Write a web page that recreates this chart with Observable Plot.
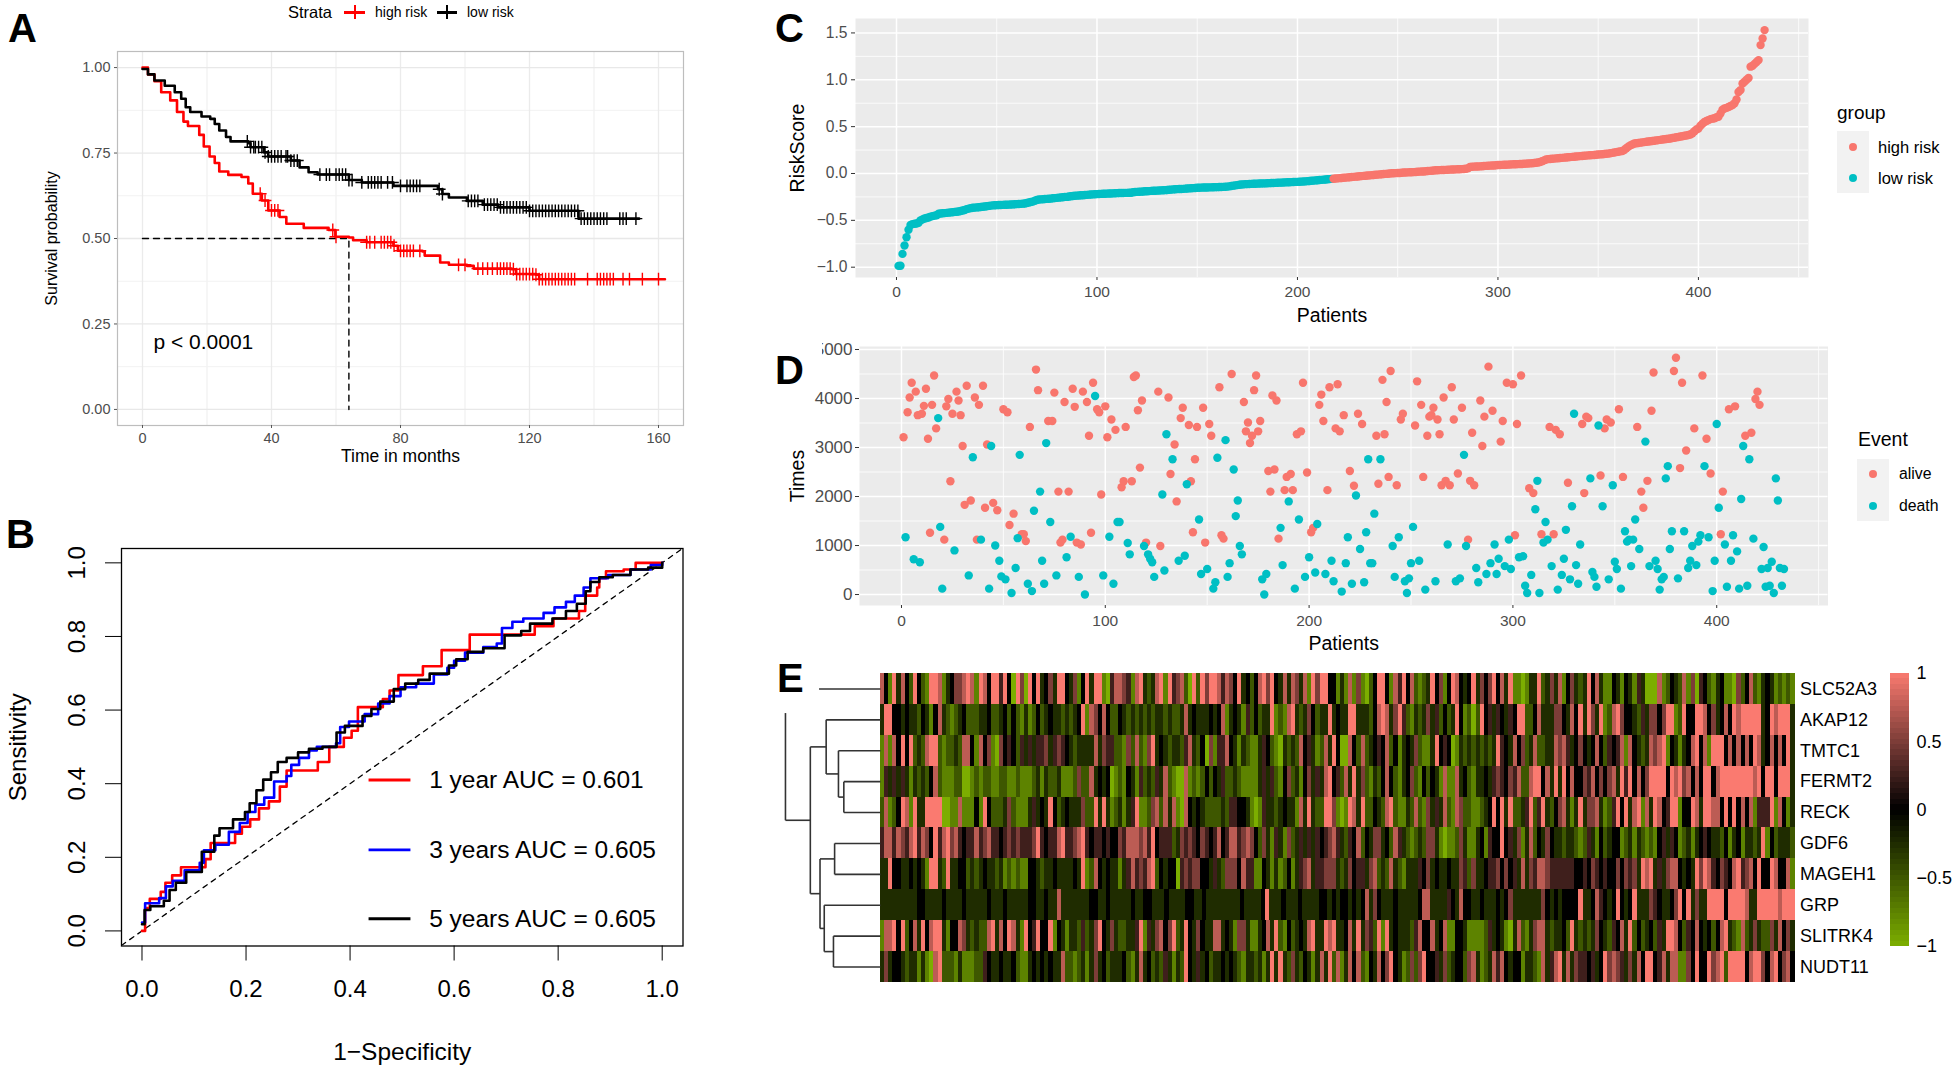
<!DOCTYPE html>
<html><head><meta charset="utf-8">
<script src="https://cdn.jsdelivr.net/npm/d3@7"></script>
<script src="https://cdn.jsdelivr.net/npm/@observablehq/plot@0.6"></script>
<style>
html,body{margin:0;padding:0;background:#fff}
#page{position:relative;width:1954px;height:1068px;overflow:hidden;background:#fff;font-family:'Liberation Sans',Arial,sans-serif}
#page svg{position:absolute;max-width:none;overflow:visible;background:transparent}
.t{position:absolute;white-space:nowrap;transform:translateY(-50%);line-height:1}
.letter{position:absolute;font-weight:700;font-size:40px;line-height:40px;background:#fff}
</style></head><body><div id="page"></div>
<script>
const FONT = "'Liberation Sans',Arial,sans-serif";
const SALMON = "#F8766D", TEAL = "#00BFC4";

// --- A: Kaplan-Meier
const kmHigh = [[0,1],[1.7,.98],[3.7,.96],[5.8,.928],[8.6,.904],[10.7,.87],[12.7,.842],[14.1,.829],[17.6,.803],[19,.769],[20.8,.74],[22.4,.721],[23.8,.696],[26.6,.686],[30.7,.68],[32.8,.661],[34.2,.631],[37,.611],[39,.582],[42.5,.563],[44.6,.543],[50,.531],[57.7,.525],[59.8,.505],[64,.503],[65.3,.495],[69.5,.489],[77.8,.479],[79.2,.464],[86.8,.462],[87.5,.45],[92.3,.43],[95,.423],[100.6,.42],[102.7,.412],[114.5,.41],[115.8,.396],[122,.394],[123,.381],[162,.381]];
const kmLow = [[0,.996],[1.7,.98],[3.7,.962],[6.9,.947],[10,.928],[12,.909],[13.4,.884],[14.8,.87],[18.3,.857],[21,.85],[22.4,.835],[23.8,.816],[25.9,.797],[27.3,.784],[32.8,.779],[33.5,.767],[37.6,.752],[39,.74],[46,.728],[48.7,.708],[51.5,.694],[54.3,.687],[64,.671],[68,.664],[77.8,.654],[91.6,.644],[93,.63],[95,.62],[100.6,.61],[105.5,.599],[110.3,.591],[120,.581],[135.2,.558],[154,.558]];
const censorHigh = [36.5,38,40,41,42,59,60,69.5,70.5,72,74,75,76,77,78,80,81,82,83,84,86,98,100,104,105.5,107,108.5,110,111,112,113,114,115,116,117,118,119,120,121,122,123,124,125,126,127,128,129,130,131,132,133,134,138,141,142,143,144,145,146,149,151,155,160];
const censorLow = [32.5,33.5,34.5,35,36,37,38,39,40,41,42,43,44.5,45,46,47,48,55,57,58,60,61,62,63,64,65,68,70,71,72,73,74,76,77.5,80,82,83,84,85,86,92,93,101,102,103,104,106,107,108,109,110,111,112,113,114,115,116,117,118,119,120,121,122,123,124,125,126,127,128,129,130,131,132,133,134,135,136,137,138,139,140,141,142,143,144,148,149,150,153];
const medianPath = [[0,.5],[64,.5],[64,0]];

// --- B: ROC
const roc1 = [[0,0],[.006,.062],[.015,.087],[.036,.106],[.045,.131],[.058,.151],[.075,.173],[.122,.195],[.132,.239],[.179,.264],[.192,.283],[.208,.303],[.225,.333],[.244,.352],[.265,.392],[.278,.436],[.338,.459],[.36,.5],[.388,.525],[.403,.544],[.415,.608],[.463,.63],[.476,.653],[.493,.695],[.54,.719],[.576,.763],[.63,.805],[.755,.828],[.791,.849],[.84,.869],[.852,.911],[.875,.933],[.879,.958],[.892,.977],[.926,.982],[.949,1],[1,1]];
const roc3 = [[0,.023],[.006,.075],[.033,.089],[.046,.121],[.059,.136],[.082,.165],[.111,.185],[.119,.219],[.141,.234],[.167,.269],[.188,.293],[.203,.323],[.218,.343],[.235,.362],[.254,.406],[.278,.421],[.287,.451],[.302,.47],[.321,.49],[.336,.5],[.373,.51],[.381,.554],[.398,.569],[.428,.589],[.454,.618],[.476,.638],[.497,.662],[.527,.672],[.561,.697],[.587,.715],[.6,.734],[.621,.756],[.656,.771],[.682,.781],[.692,.823],[.712,.84],[.733,.849],[.772,.864],[.793,.879],[.815,.894],[.832,.911],[.849,.933],[.862,.958],[.896,.967],[.939,.982],[.978,.994],[1,1]];
const roc5 = [[0,.018],[.005,.057],[.016,.067],[.042,.082],[.053,.111],[.065,.131],[.085,.16],[.115,.215],[.139,.259],[.149,.279],[.175,.303],[.198,.323],[.207,.347],[.22,.382],[.233,.411],[.248,.431],[.261,.459],[.278,.47],[.3,.485],[.321,.495],[.347,.5],[.374,.539],[.39,.557],[.424,.584],[.441,.603],[.458,.623],[.484,.657],[.506,.672],[.531,.682],[.553,.699],[.59,.721],[.604,.738],[.626,.758],[.656,.768],[.697,.803],[.729,.815],[.746,.835],[.789,.849],[.815,.869],[.836,.889],[.853,.923],[.862,.948],[.879,.961],[.905,.967],[.939,.982],[.973,.987],[1,1]];
const rocLegend = [{label:"1 year AUC = 0.601",color:"#ff0000",y:.41},{label:"3 years AUC = 0.605",color:"#0000ff",y:.22},{label:"5 years AUC = 0.605",color:"#000000",y:.033}];

// --- C: risk score per patient, in rank order
const riskScore = [-.986,-.984,-.858,-.769,-.68,-.6,-.55,-.54,-.537,-.534,-.525,-.5,-.49,-.48,-.475,-.47,-.46,-.455,-.45,-.445,-.43,-.427,-.425,-.423,-.42,-.418,-.415,-.413,-.41,-.408,-.405,-.4,-.395,-.39,-.38,-.375,-.37,-.366,-.364,-.362,-.36,-.358,-.355,-.352,-.35,-.346,-.343,-.34,-.339,-.338,-.337,-.336,-.335,-.334,-.333,-.332,-.331,-.33,-.328,-.327,-.326,-.324,-.322,-.32,-.315,-.31,-.305,-.3,-.29,-.283,-.278,-.276,-.275,-.273,-.271,-.27,-.268,-.265,-.263,-.26,-.258,-.255,-.253,-.25,-.25,-.245,-.243,-.24,-.238,-.236,-.235,-.233,-.232,-.23,-.228,-.226,-.225,-.223,-.222,-.22,
-.219,-.218,-.217,-.216,-.215,-.214,-.213,-.212,-.211,-.21,-.209,-.208,-.208,-.207,-.207,-.206,-.206,-.2,-.198,-.196,-.195,-.194,-.192,-.19,-.189,-.188,-.186,-.185,-.184,-.183,-.182,-.18,-.179,-.178,-.176,-.174,-.172,-.17,-.168,-.167,-.166,-.165,-.164,-.162,-.16,-.159,-.158,-.156,-.155,-.153,-.152,-.151,-.15,-.15,-.149,-.148,-.148,-.147,-.146,-.146,-.145,-.144,-.143,-.142,-.14,-.137,-.134,-.13,-.127,-.124,-.12,-.118,-.116,-.114,
-.113,-.112,-.111,-.11,-.109,-.108,-.107,-.106,-.106,-.105,-.104,-.103,-.102,-.101,-.1,-.099,-.098,-.097,-.096,-.095,-.094,-.093,-.092,-.091,-.09,-.089,-.088,-.087,-.085,-.084,-.082,-.08,-.078,-.076,-.074,-.072,-.07,-.068,-.066,-.064,-.062,-.06,-.058,
-.056,-.054,-.052,-.05,-.048,-.046,-.044,-.042,-.04,-.038,-.036,-.034,-.032,-.03,-.028,-.026,-.024,-.022,-.02,-.018,-.016,-.014,-.012,-.01,-.008,-.006,-.004,-.002,0,.002,.003,.004,.005,.006,.008,.01,.011,.012,.013,.014,.015,.016,.018,.02,.021,.022,.024,.026,.028,.03,.032,.034,.035,.036,.037,.038,.039,.04,.041,.042,.043,.044,.045,.046,.047,.048,.05,.055,.07,
.072,.073,.074,.075,.076,.078,.08,.081,.082,.084,.085,.086,.088,.09,.091,.092,.093,.094,.095,.096,.097,.098,.099,.1,.101,.102,.104,.105,.106,.108,.11,.112,.114,.117,.122,.13,.14,.15,.153,.155,.157,.159,.161,.163,.165,.167,.169,.171,.173,.175,.177,.179,.181,.183,.185,.187,.189,.191,.193,.195,.196,.198,.2,.202,.204,.206,.208,.21,.212,.216,.22,.224,.228,.232,.236,.24,.25,.27,.285,.3,.31,.32,
.323,.326,.329,.332,.335,.338,.341,.344,.347,.35,.353,.356,.359,.362,.365,.368,.371,.374,.378,.382,.386,.39,.394,.398,.402,.406,.41,.416,.43,.45,.47,.48,.51,.53,.55,.56,.57,.58,.585,.59,.6,.605,.64,.68,.694,.7,.71,.72,.73,.75,.79,.87,.89,.96,.98,1,1.02,1.14,1.15,1.17,1.19,1.21,1.37,1.44,1.53];
const highRiskFrom = 218;

// --- D: [patient, time] pairs
const aliveTimes = [[1,3210],[3,3720],[4,4020],[5,4320],[7,4140],[8,3660],[10,3690],[11,3850],[12,4200],[13,3180],[14,1260],[15,3870],[16,4470],[17,3390],[21,1120],[22,3840],[23,3990],[24,2310],[25,3690],[27,4140],[28,3960],[29,3660],[30,3030],[31,1830],[32,4260],[34,1920],[36,4020],[37,1120],[38,3870],[40,4260],[41,1770],[42,3060],[45,1870],[47,1720],[50,3780],[52,3720],[53,1420],[55,1650],[59,1230],[60,1230],[61,1090],[63,3420],[66,4590],[67,4170],[72,3540],[74,3540],[75,4120],[77,2100],[78,1060],[79,1120],[80,3930],[82,2100],[84,4200],[85,3830],[86,1060],[88,1020],[89,4140],[91,3930],[92,3240],[93,1260],[94,4320],[96,3780],[97,3720],[98,2040],[100,3840],[101,3210],[103,3570],[105,3360],[108,2190],[109,2310],[110,3420],[113,2310],[114,4440],[115,4470],[116,3760],[117,2590],[118,3960],[120,1060],[126,4140],[127,990],[131,4020],[132,2460],[134,3060],[135,1900],[137,3600],[138,3810],[141,3460],[142,2310],[143,1270],[144,2760],[145,3420],[148,3810],[149,1060],[151,3480],[152,3240],[156,4230],[157,1210],[158,1140],[162,4500],[168,3930],[169,3330],[170,3510],[171,3090],[172,3240],[173,4170],[174,4470],[175,3330],[176,3540],[180,2520],[181,2100],[182,4060],[183,2550],[184,3960],[185,1140],[188,2130],[189,2400],[191,2460],[192,2130],[194,3270],[196,3330],[197,4320],[199,2490],[201,1270],[202,1360],[205,3870],[206,4080],[207,3540],[209,2130],[210,4230],[213,3390],[214,4290],[215,3330],[217,3660],[220,2520],[222,2220],[224,3690],[226,3480],[233,3240],[234,2260],[236,4380],[237,3270],[238,3930],[239,2400],[240,4560],
[243,2230],[245,3570],[246,3690],[252,3450],[253,4350],[255,3870],[256,2400],[258,3240],[259,3630],[260,3660],[261,3810],[263,3570],[264,3270],[265,2230],[266,4020],[267,2320],[269,2230],[270,4230],[271,3570],[273,2470],[275,3810],[278,1120],[279,2320],[280,3300],[281,2230],[284,3960],[285,3030],[286,3630],[288,4650],[290,3750],[294,3120],[295,3540],[297,4320],[300,4290],[301,1210],[302,3480],[304,4470],[308,2170],[310,2070],[314,1230],[318,3420],[320,1230],[321,3360],[323,3270],[327,2280],[334,3480],[335,2070],[336,3630],[337,3600],[343,2430],[345,3390],[346,3570],[348,3510],[352,3780],[354,2400],[361,3420],[363,2100],[364,1770],[366,2320],[368,3750],[369,4530],[379,4560],[380,4830],[382,2580],[383,4320],[385,2940],[389,3390],[393,4470],[395,3180],[397,2470],[402,1230],[403,2100],[406,3780],[409,3840],[414,3240],[417,3300],[419,3990],[420,4140],[421,3870]];
const deathTimes = [[2,1170],[6,720],[9,660],[18,3600],[19,1380],[20,120],[26,900],[33,390],[35,2800],[39,1120],[43,120],[44,3030],[46,1000],[48,690],[49,370],[51,310],[54,30],[56,540],[57,1150],[58,2850],[62,220],[64,70],[65,1710],[68,2100],[69,690],[70,220],[71,3090],[73,1480],[76,390],[81,760],[83,1180],[87,360],[90,0],[95,4050],[99,390],[102,1180],[104,220],[106,1480],[107,1480],[111,1050],[112,820],[119,990],[121,820],[122,730],[123,660],[124,360],[128,2040],[129,490],[130,3270],[133,2760],[136,690],[139,790],[140,2250],[146,1530],[147,420],[150,520],[153,120],[154,250],[155,2790],[159,3150],[160,360],[161,640],[163,2550],[164,1600],[165,1920],[166,990],[167,820],[177,310],[178,0],[179,420],[186,1360],[187,600],[190,1900],[193,120],[195,1530],[198,360],[200,760],[203,450],[204,1440],[208,420],[211,690],[212,270],[216,60],[218,640],[219,1170],[221,220],[223,2020],[225,930],[227,250],[228,1270],[229,2760],[230,640],[231,640],[232,1650],[235,2760],
[241,990],[242,360],[244,1170],[247,270],[248,30],[249,330],[250,640],[251,1380],[254,690],[257,100],[262,270],[268,1020],[272,270],[274,330],[276,2850],[277,990],[282,540],[283,250],[287,420],[289,640],[291,1020],[292,420],[293,730],[296,580],[298,1120],[299,520],[303,760],[305,780],[306,180],[307,30],[309,400],[311,1740],[312,2320],[313,30],[315,1060],[316,1480],[317,1120],[319,580],[322,100],[324,400],[325,730],[326,1320],[328,310],[329,1800],[330,3690],[331,600],[332,220],[333,1020],[338,2370],[339,460],[340,360],[341,160],[342,3450],[344,1800],[347,310],[349,2230],[350,670],[351,520],[353,120],[355,1290],[356,1080],[357,1120],[358,580],[359,1120],[360,1530],[362,930],[365,3120],[367,580],[370,690],[371,520],[372,100],[373,310],[374,360],[375,2370],[376,2620],[377,930],[378,1290],[381,330],[384,1290],[386,540],[387,690],[388,990],[390,600],[391,1080],[392,1210],[394,2620],[396,1170],[398,70],[399,690],[400,3480],[401,1770],[404,1020],[405,160],[407,690],[408,1210],[410,880],[411,120],[412,1950],[413,3030],[415,180],[416,2760],[418,1140],[422,520],[423,970],[424,160],[425,540],[426,180],[427,670],[428,30],[429,2370],[430,1920],[431,540],[432,180],[433,520]];

// --- E: expression levels, one digit per stripe (0 = -1, 4 = 0, 8 = +1), four stretches of patients per gene
const genes = ["SLC52A3","AKAP12","TMTC1","FERMT2","RECK","GDF6","MAGEH1","GRP","SLITRK4","NUDT11"];
const stretchEnds = [0,108.9,217.8,326.7,433];
const exprSLC52A3 = ["74183742842188713466787187488584086084834638843614838810","57765178323781856720828688757648342478684373763718688441","31716102488417584721238461487434836468473811013382363714","632384731143143153000712432716054213411062472134312121"];
const exprAKAP12 = ["38844343324314732123422233422342421312423433232348176474","22432323232332322373433343471343152423381217832364233834","33883332478736852132363524238412028453543548822473336643","748386381278644325366468812844887463474878888834878883"];
const exprTMTC1 = ["17174848232788212232774174610645425353556356543233337365","52216272168343233257324061557431321135421032327453127384","00742723454724134362113845401323232323854374623722337675","346434742545717432376781431347847188847474748734747483"];
const exprFERMT2 = ["15353531323247211122001212211221121112313223111262273434","01214315232537210071212424352232111135352146231463537845","27383621324742134621424317117342133435654657227884738384","744657464673858474688884878674748847888888887848848883"];
const exprRECK = ["27124871833888800117111418422236211135343842343336228383","12313581126727371074343222232554431015332343317383228861","01873822432782113272163537217622112348483822358258324673","138366731258483781738745881448738877484847471555817413"];
const exprGDF6 = ["57757657857648578675455756755456565556854557855678545545","44657776758455523656546545745775676426315316235353545675","32547243663427532123266310112631134154484536137243643323","321253142344123132121453541231345433241341332381423332"];
const exprMAGEH1 = ["33844334343188328334423234332312121144323343333438127434","33135756578243440565664435326664755114313124135673556663","23645536723273213335463433433652633455646453736577655555","544546545446465638783536774343868754654785674844874471"];
const exprGRP = ["33333333344333343333433333433343333344334337333333344334","3333343344333433334433433333333433334833343334333344343","44343473643334333334773333543744334333434633333336434344","448334754348434833365433468483633888848888733888887888"];
const exprSLITRK4 = ["17784824738478831447632322783748731845844814313325236843","63223358153674682384364337734316631134738214234378338783","34738365281834333257447347114431111253431037213677323342","832323643254738242342538874254743424783217236322637463"];
const exprNUDT11 = ["36344323313107822213111225433433421134343433722123136342","33342137342325313284353423343432133231383832632431373827","13747214374684312626844536234426731237574344133217357837","365545348676536374884573771164844867828888478864784674"];
const exprRows = [exprSLC52A3,exprAKAP12,exprTMTC1,exprFERMT2,exprRECK,exprGDF6,exprMAGEH1,exprGRP,exprSLITRK4,exprNUDT11];
// dendrogram: [merge height, child, child]; plain numbers are row indexes
const dendroTree = [.731,[.566,1,[.438,2,[.382,3,4]]],[.63,[.478,5,6],[.586,7,[.49,8,9]]]];
const dendroRootHeight = .99, dendroRootTopRow = .78, dendroStubHeight = .64;
const colorDomain = [-1,0,1], colorRange = ["#7CAE00","#000000","#FA7A70"];
const colorBarLevels = d3.range(-1,1,.04);

// ------------------------------------------------------------------
const page = document.getElementById("page");
function place(svg,left,top){svg.style.left=left+"px";svg.style.top=top+"px";page.appendChild(svg);}
function label(str,x,y,size,extra){const d=document.createElement("div");d.className="t";d.textContent=str;d.style.left=x+"px";d.style.top=y+"px";d.style.fontSize=size+"px";if(extra)Object.assign(d.style,extra);page.appendChild(d);return d;}
function box(x,y,w,h,bg,extra){const d=document.createElement("div");d.style.cssText=`position:absolute;left:${x}px;top:${y}px;width:${w}px;height:${h}px;background:${bg}`;if(extra)Object.assign(d.style,extra);page.appendChild(d);return d;}
const base = {style:{fontFamily:FONT,background:"transparent",overflow:"visible"}};
const titleX=(s,dy,size)=>Plot.text([s],{frameAnchor:"bottom",lineAnchor:"middle",textAnchor:"middle",dy,fontSize:size,fill:"#000"});
const titleY=(s,dx,size)=>Plot.text([s],{frameAnchor:"left",lineAnchor:"middle",textAnchor:"middle",dx,rotate:-90,fontSize:size,fill:"#000"});
const levelAt=(curve,t)=>{let v=curve[0][1];for(const [x,y] of curve){if(x<=t)v=y;else break;}return v;};

// A
place(Plot.plot({...base,width:656,height:434,marginLeft:80,marginRight:10,marginTop:10,marginBottom:50,
  x:{domain:[-7.75,167.75]},y:{domain:[-.047,1.047]},
  marks:[
    Plot.ruleX([20,60,100,140],{stroke:"#ededed",strokeWidth:1}),
    Plot.ruleY([.125,.375,.625,.875],{stroke:"#f2f2f2",strokeWidth:1}),
    Plot.ruleX([0,40,80,120,160],{stroke:"#ebebeb",strokeWidth:1.3}),
    Plot.ruleY([0,.25,.5,.75,1],{stroke:"#e8e8e8",strokeWidth:1.3}),
    Plot.frame({stroke:"#bdbdbd",strokeWidth:1.2}),
    Plot.line(medianPath,{stroke:"#000",strokeWidth:1.4,strokeDasharray:"6,5"}),
    Plot.line(kmHigh,{curve:"step-after",stroke:"#ff0000",strokeWidth:2.6}),
    Plot.dot(censorHigh,{x:d=>d,y:d=>levelAt(kmHigh,d),symbol:"plus",r:4.2,stroke:"#ff0000",strokeWidth:1.4}),
    Plot.line(kmLow,{curve:"step-after",stroke:"#000",strokeWidth:2.6}),
    Plot.dot(censorLow,{x:d=>d,y:d=>levelAt(kmLow,d),symbol:"plus",r:4.2,stroke:"#000",strokeWidth:1.4}),
    Plot.text(["p < 0.0001"],{x:3.4,y:.196,textAnchor:"start",fontSize:21,fill:"#000"}),
    Plot.axisX({ticks:[0,40,80,120,160],tickSize:3,tickPadding:4,fontSize:14.5,fill:"#4d4d4d",stroke:"#555",label:null}),
    Plot.axisY({ticks:[0,.25,.5,.75,1],tickFormat:d3.format(".2f"),tickSize:3,tickPadding:4,fontSize:14.5,fill:"#4d4d4d",stroke:"#555",label:null}),
    titleX("Time in months",31,17.5),titleY("Survival probability",-66,16)
  ]}),37,41);
label("Strata",288,12,16.5);
box(344,10.5,21,3,"#ff0000");box(353.5,5,2,14,"#ff0000");label("high risk",375,12,14);
box(437,10.5,20,3,"#000");box(446,5,2,14,"#000");label("low risk",467,12,14);

// B
place(Plot.plot({...base,width:681.5,height:527.5,marginLeft:110,marginRight:10,marginTop:10,marginBottom:120,
  x:{domain:[-.0394,1.04]},y:{domain:[-.041,1.039]},
  marks:[
    Plot.line([[-.0394,-.0394],[1.04,1.04]],{stroke:"#000",strokeWidth:1.3,strokeDasharray:"5,5",clip:true}),
    Plot.line(roc1,{curve:"step-after",stroke:"#ff0000",strokeWidth:2.6}),
    Plot.line(roc3,{curve:"step-after",stroke:"#0000ff",strokeWidth:2.6}),
    Plot.line(roc5,{curve:"step-after",stroke:"#000",strokeWidth:2.6}),
    Plot.ruleY(rocLegend,{y:"y",x1:.4365,x2:.517,stroke:"color",strokeWidth:2.8}),
    Plot.text(rocLegend,{x:.552,y:"y",text:"label",textAnchor:"start",fontSize:24.5,fill:"#000"}),
    Plot.frame({stroke:"#000",strokeWidth:1.3}),
    Plot.axisX({ticks:[0,.2,.4,.6,.8,1],tickFormat:d3.format(".1f"),tickSize:15,tickPadding:19,fontSize:24,fill:"#000",stroke:"#000",label:null}),
    Plot.axisY({ticks:[0,.2,.4,.6,.8,1],tickFormat:d3.format(".1f"),tickSize:16,tickPadding:21,tickRotate:-90,fontSize:24,fill:"#000",stroke:"#000",label:null}),
    titleX("1\u2212Specificity",106,24.5),titleY("Sensitivity",-103,24)
  ]}),10.5,537.5);

// C
const riskRows = riskScore.map((v,i)=>({patient:i+1,v,hi:i+1>=highRiskFrom}));
place(Plot.plot({...base,width:1028,height:324,marginLeft:70,marginRight:5,marginTop:5,marginBottom:60,
  x:{domain:[-20.45,454.9]},y:{domain:[-1.11,1.654]},
  marks:[
    Plot.frame({fill:"#ebebeb",stroke:null}),
    Plot.ruleX([50,150,250,350,450],{stroke:"#fff",strokeWidth:.8}),
    Plot.ruleY([-.75,-.25,.25,.75,1.25],{stroke:"#fff",strokeWidth:.8}),
    Plot.ruleX([0,100,200,300,400],{stroke:"#fff",strokeWidth:1.5}),
    Plot.ruleY([-1,-.5,0,.5,1,1.5],{stroke:"#fff",strokeWidth:1.5}),
    Plot.dot(riskRows,{x:"patient",y:"v",r:4.2,fill:d=>d.hi?SALMON:TEAL,stroke:null}),
    Plot.axisX({ticks:[0,100,200,300,400],tickSize:3,tickPadding:5,fontSize:15.5,fill:"#4d4d4d",stroke:"#333",label:null}),
    Plot.axisY({ticks:[-1,-.5,0,.5,1,1.5],tickFormat:d3.format(".1f"),tickSize:4,tickPadding:4,fontSize:15.6,fill:"#4d4d4d",stroke:"#333",label:null}),
    titleX("Patients",38,19.5),titleY("RiskScore",-58,19.5)
  ]}),785,13);
label("group",1837,112,19);
box(1837,131,32,62,"#f2f2f2");
box(1849,143,8.4,8.4,SALMON,{borderRadius:"50%"});box(1849,174,8.4,8.4,TEAL,{borderRadius:"50%"});
label("high risk",1878,147,16.5);label("low risk",1878,178,16.5);

// D
const alivePts = aliveTimes.map(([patient,t])=>({patient,t}));
const deathPts = deathTimes.map(([patient,t])=>({patient,t}));
place(Plot.plot({...base,width:1043.5,height:324,marginLeft:70,marginRight:5,marginTop:5,marginBottom:60,
  x:{domain:[-20.6,454.6]},y:{domain:[-224,5061]},
  marks:[
    Plot.frame({fill:"#ebebeb",stroke:null}),
    Plot.ruleX([50,150,250,350,450],{stroke:"#fff",strokeWidth:.8}),
    Plot.ruleY([500,1500,2500,3500,4500],{stroke:"#fff",strokeWidth:.8}),
    Plot.ruleX([0,100,200,300,400],{stroke:"#fff",strokeWidth:1.5}),
    Plot.ruleY([0,1000,2000,3000,4000,5000],{stroke:"#fff",strokeWidth:1.5}),
    Plot.dot(alivePts,{x:"patient",y:"t",r:4.2,fill:SALMON,stroke:null}),
    Plot.dot(deathPts,{x:"patient",y:"t",r:4.2,fill:TEAL,stroke:null}),
    Plot.axisX({ticks:[0,100,200,300,400],tickSize:3,tickPadding:6,fontSize:15.5,fill:"#4d4d4d",stroke:"#333",label:null}),
    Plot.axisY({ticks:[0,1000,2000,3000,4000,5000],tickFormat:d=>String(d),tickSize:4,tickPadding:3,fontSize:17,fill:"#4d4d4d",stroke:"#333",label:null}),
    titleX("Patients",38,19.5),titleY("Times",-62,19.5)
  ]}),789,341);
label("Event",1858,440,19.5);
box(1857,459,32,62,"#f2f2f2");
box(1869,470,8.4,8.4,SALMON,{borderRadius:"50%"});box(1869,502,8.4,8.4,TEAL,{borderRadius:"50%"});
label("alive",1899,474,15.8);label("death",1899,506,15.8);

// E heat map
const cells = [];
exprRows.forEach((stretches,g)=>stretches.forEach((s,k)=>{
  const a=stretchEnds[k], w=(stretchEnds[k+1]-a)/s.length;
  [...s].forEach((c,j)=>cells.push({gene:genes[g],x1:a+j*w,x2:a+(j+1)*w,v:(+c-4)/4}));
}));
const colorScale = {type:"linear",domain:colorDomain,range:colorRange,interpolate:"rgb"};
place(Plot.plot({...base,width:1014.6,height:309,marginLeft:0,marginRight:100,marginTop:0,marginBottom:0,
  x:{domain:[0,433],axis:null},y:{domain:genes,padding:0,round:false},color:colorScale,
  marks:[
    Plot.barX(cells,{x1:"x1",x2:"x2",y:"gene",fill:"v",shapeRendering:"crispEdges"}),
    Plot.axisY({anchor:"right",tickSize:0,tickPadding:5,fontSize:18,fill:"#000",label:null})
  ]}),880,673);

// E colour bar
place(Plot.plot({...base,width:64,height:273,marginLeft:0,marginRight:45,marginTop:0,marginBottom:0,
  x:{domain:[0,1],axis:null},y:{domain:[-1,1]},color:colorScale,
  marks:[
    Plot.rect(colorBarLevels,{x1:0,x2:1,y1:d=>d,y2:d=>d+.04,fill:d=>d+.02,shapeRendering:"crispEdges"}),
    Plot.axisY({anchor:"right",ticks:[-1,-.5,0,.5,1],tickFormat:d3.format("~g"),tickSize:0,tickPadding:7,fontSize:18,fill:"#000",label:null})
  ]}),1890,673);

// E dendrogram
const links=[];
(function walk(n){
  if(typeof n==="number")return {h:0,y:n};
  const [h,a,b]=n, A=walk(a), B=walk(b);
  links.push({x1:h,y1:A.y,x2:h,y2:B.y},{x1:h,y1:A.y,x2:A.h,y2:A.y},{x1:h,y1:B.y,x2:B.h,y2:B.y});
  return {h,y:(A.y+B.y)/2};
})(dendroTree);
const topNodeY=(1.875+6.625)/2;
links.push({x1:dendroStubHeight,y1:0,x2:0,y2:0},{x1:dendroRootHeight,y1:dendroRootTopRow,x2:dendroRootHeight,y2:topNodeY},{x1:dendroRootHeight,y1:topNodeY,x2:dendroTree[0],y2:topNodeY});
place(Plot.plot({...base,width:100,height:309,marginLeft:4,marginRight:0,marginTop:0,marginBottom:0,
  x:{domain:[1,0],axis:null},y:{domain:[9.5,-.5],axis:null},
  marks:[Plot.link(links,{x1:"x1",y1:"y1",x2:"x2",y2:"y2",stroke:"#333",strokeWidth:1.6,curve:"linear",markerEnd:"none"})]}),780,673);

// Panel letters
[["A",8,42],["B",6,548],["C",775,42],["E",777,692]].forEach(([s,x,b])=>{
  const d=document.createElement("div");d.className="letter";d.textContent=s;d.style.left=x+"px";d.style.top=(b-34)+"px";d.style.background="transparent";page.appendChild(d);
});
const letterD=document.createElement("div");letterD.className="letter";letterD.textContent="D";
letterD.style.cssText="left:775px;top:340px;width:47px;height:50px;padding-top:10px;box-sizing:border-box";page.appendChild(letterD);
</script></body></html>
